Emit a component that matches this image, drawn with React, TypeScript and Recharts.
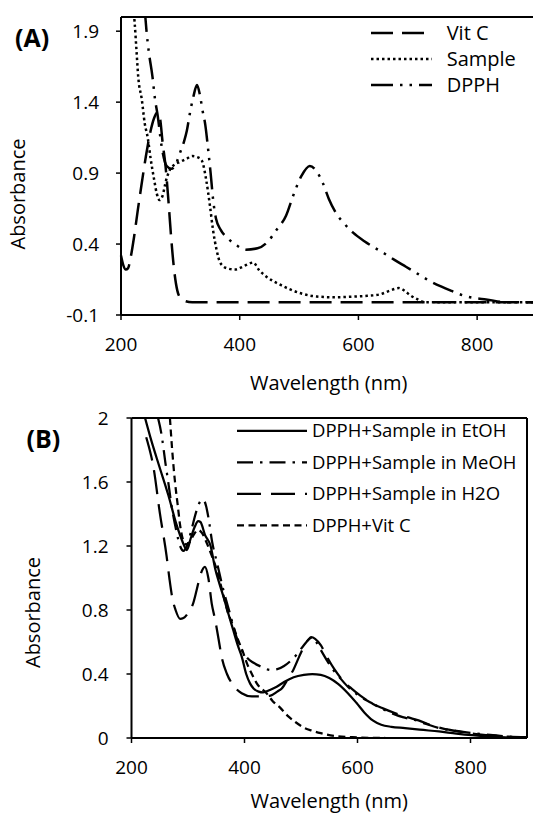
import { LineChart, Line, XAxis, YAxis, ReferenceLine, Legend } from "recharts";

// (A) spectra, wavelength (nm) / absorbance
const vitcA_nm = [200, 204, 208, 212, 216, 222, 228, 235, 242, 250, 256, 262, 266, 270, 275, 280, 285, 290, 295, 300, 307, 320, 400, 500, 600, 700, 800, 900];
const vitcA_abs = [0.32, 0.25, 0.22, 0.23, 0.3, 0.45, 0.63, 0.83, 1.02, 1.2, 1.29, 1.33, 1.28, 1.12, 0.95, 0.7, 0.42, 0.2, 0.07, 0.02, 0.0, -0.01, -0.01, -0.01, -0.01, -0.01, -0.01, -0.01];

const sampleA_nm = [220, 223, 226, 229, 235, 240, 245, 250, 256, 260, 265, 270, 276, 282, 290, 300, 310, 320, 330, 336, 344, 350, 355, 361, 367, 378, 392, 405, 415, 423, 432, 445, 465, 485, 505, 530, 560, 593, 615, 636, 652, 668, 678, 687, 700, 712, 730, 800, 900];
const sampleA_abs = [2.1, 1.96, 1.77, 1.58, 1.42, 1.25, 1.15, 1.0, 0.85, 0.76, 0.71, 0.74, 0.85, 0.92, 0.96, 0.98, 1.0, 1.02, 1.01, 0.99, 0.84, 0.665, 0.5, 0.36, 0.27, 0.23, 0.22, 0.24, 0.26, 0.27, 0.22, 0.17, 0.12, 0.08, 0.05, 0.03, 0.025, 0.03, 0.035, 0.045, 0.07, 0.09, 0.07, 0.04, 0.01, -0.01, -0.01, -0.01, -0.01];

const dpphA_nm = [240, 243, 247, 253, 257, 262, 268, 277, 285, 292, 300, 306, 311, 316, 322, 328, 333, 337, 342, 347, 351, 355, 360, 368, 380, 395, 410, 430, 448, 462, 478, 490, 504, 518, 530, 540, 550, 562, 575, 591, 610, 625, 645, 660, 680, 700, 720, 740, 757, 775, 795, 815, 850, 900];
const dpphA_abs = [2.05, 1.9, 1.75, 1.58, 1.43, 1.3, 1.1, 0.95, 0.93, 0.96, 1.05, 1.12, 1.2, 1.32, 1.44, 1.52, 1.45, 1.35, 1.24, 1.06, 0.9, 0.72, 0.58, 0.5, 0.44, 0.39, 0.36, 0.37, 0.42, 0.5, 0.6, 0.74, 0.88, 0.95, 0.91, 0.83, 0.72, 0.62, 0.55, 0.48, 0.42, 0.38, 0.33, 0.29, 0.24, 0.19, 0.14, 0.1, 0.07, 0.04, 0.02, 0.01, -0.01, -0.01];

// (B) spectra
const etohB_nm = [224, 235, 249, 265, 280, 290, 298, 305, 312, 318, 322, 330, 340, 348, 356, 363, 372, 380, 388, 395, 403, 410, 416, 425, 433, 445, 457, 470, 487, 505, 520, 535, 550, 565, 583, 598, 612, 627, 642, 660, 684, 710, 744, 775, 803, 840, 870, 900];
const etohB_abs = [2.0, 1.86, 1.7, 1.52, 1.33, 1.23, 1.175, 1.25, 1.32, 1.355, 1.35, 1.27, 1.2, 1.06, 0.96, 0.88, 0.77, 0.675, 0.58, 0.51, 0.4, 0.34, 0.31, 0.29, 0.285, 0.3, 0.32, 0.35, 0.38, 0.395, 0.4, 0.395, 0.375, 0.34, 0.28, 0.22, 0.16, 0.11, 0.083, 0.07, 0.062, 0.052, 0.041, 0.028, 0.018, 0.008, 0.003, 0.0];

const meohB_nm = [247, 253, 260, 265, 271, 279, 286, 292, 298, 306, 315, 322, 327, 332, 336, 343, 351, 363, 374, 385, 395, 405, 416, 430, 446, 458, 470, 481, 492, 505, 515, 520, 527, 535, 545, 553, 568, 583, 600, 624, 642, 660, 680, 701, 720, 744, 775, 803, 835, 863, 900];
const meohB_abs = [2.0, 1.9, 1.72, 1.6, 1.45, 1.3, 1.2, 1.17, 1.2, 1.3, 1.42, 1.48, 1.49, 1.45, 1.38, 1.22, 1.1, 0.92, 0.78, 0.64, 0.55, 0.5, 0.47, 0.445, 0.425, 0.43, 0.45, 0.48, 0.52, 0.58, 0.62, 0.63, 0.6, 0.55, 0.49, 0.445, 0.38, 0.32, 0.27, 0.22, 0.185, 0.156, 0.13, 0.113, 0.09, 0.062, 0.045, 0.03, 0.02, 0.01, 0.005];

const h2oB_nm = [226, 230, 239, 250, 262, 267, 272, 278, 286, 292, 300, 309, 315, 322, 330, 336, 342, 348, 354, 360, 369, 380, 395, 413, 430, 446, 458, 466, 477, 487, 497, 505, 512, 518, 525, 535, 547, 559, 574, 589, 605, 624, 645, 666, 688, 708, 730, 750, 780, 810, 850, 900];
const h2oB_abs = [1.88, 1.83, 1.69, 1.41, 1.14, 1.0, 0.88, 0.8, 0.745, 0.75, 0.78, 0.84, 0.92, 1.02, 1.07, 1.0, 0.84, 0.74, 0.62, 0.5, 0.4, 0.33, 0.28, 0.26, 0.26, 0.265, 0.29, 0.31, 0.37, 0.43, 0.51, 0.57, 0.61, 0.63, 0.62, 0.58, 0.5, 0.43, 0.36, 0.31, 0.265, 0.22, 0.185, 0.156, 0.13, 0.11, 0.08, 0.06, 0.04, 0.025, 0.012, 0.005];

const vitcB_nm = [268, 272, 277, 282, 286, 291, 296, 302, 310, 318, 325, 333, 342, 350, 360, 371, 380, 389, 397, 404, 413, 422, 439, 450, 463, 476, 490, 505, 520, 535, 562, 600, 650, 900];
const vitcB_abs = [2.0, 1.8, 1.6, 1.45, 1.33, 1.24, 1.21, 1.22, 1.27, 1.3, 1.28, 1.22, 1.14, 1.06, 0.93, 0.78, 0.7, 0.61, 0.54, 0.47, 0.4, 0.34, 0.28, 0.23, 0.19, 0.14, 0.1, 0.065, 0.045, 0.03, 0.012, 0.004, 0.0, 0.0];

const xTicks = [200, 400, 600, 800];
const yTicksA = [-0.1, 0.4, 0.9, 1.4, 1.9];
const yTicksB = [0, 0.4, 0.8, 1.2, 1.6, 2];

const toPoints = (nm: number[], abs: number[]) => nm.map((x, i) => ({ nm: x, abs: abs[i] }));

const FONT = "'Open Sans', sans-serif";

const seriesA = [
  { name: "Vit C", data: toPoints(vitcA_nm, vitcA_abs), dash: "22 9" },
  { name: "Sample", data: toPoints(sampleA_nm, sampleA_abs), dash: "2.5 3" },
  { name: "DPPH", data: toPoints(dpphA_nm, dpphA_abs), dash: "22 7 2.5 7 2.5 7" },
];

const seriesB = [
  { name: "DPPH+Sample in EtOH", data: toPoints(etohB_nm, etohB_abs), dash: undefined },
  { name: "DPPH+Sample in MeOH", data: toPoints(meohB_nm, meohB_abs), dash: "16 7 2.5 7" },
  { name: "DPPH+Sample in H2O", data: toPoints(h2oB_nm, h2oB_abs), dash: "24 10" },
  { name: "DPPH+Vit C", data: toPoints(vitcB_nm, vitcB_abs), dash: "7 4.5" },
];

type Series = { name: string; dash?: string };

// legend drawn by hand so the long line samples match the figure
const makeLegend =
  (items: Series[], rowH: number, lineLen: number, textX: number, fontSize: number, sw: number) => () =>
    (
      <svg width={textX + 220} height={items.length * rowH}>
        {items.map((s, i) => {
          const y = rowH * i + rowH / 2;
          return (
            <g key={s.name}>
              <line x1={0} x2={lineLen} y1={y} y2={y} stroke="#000" strokeWidth={sw} strokeDasharray={s.dash} />
              <text x={textX} y={y} dy="0.35em" fontSize={fontSize} fontFamily={FONT} fill="#000">
                {s.name}
              </text>
            </g>
          );
        })}
      </svg>
    );

const yTitle = (x: number, y: number) => () =>
  (
    <text
      x={x}
      y={y}
      transform={`rotate(-90 ${x} ${y})`}
      textAnchor="middle"
      dy="0.35em"
      fontSize={20}
      fontFamily={FONT}
      fill="#000"
    >
      Absorbance
    </text>
  );

const tickStyle = { fill: "#000", fontSize: 19, fontFamily: FONT };
const axisLine = { stroke: "#000", strokeWidth: 2 };
const tickLine = { stroke: "#000", strokeWidth: 1.5 };

export default function App() {
  return (
    <div
      style={{
        position: "absolute",
        left: 0,
        top: 0,
        width: 533,
        height: 815,
        overflow: "hidden",
        background: "#fff",
        fontFamily: FONT,
      }}
    >
      {/* panel A */}
      <div style={{ position: "absolute", left: 0, top: 0 }}>
        <LineChart width={560} height={400} margin={{ top: 17, right: 23.5, bottom: 0, left: 0 }}>
          <XAxis
            dataKey="nm"
            type="number"
            domain={[200, 900]}
            ticks={xTicks}
            height={85}
            tickSize={5}
            tickMargin={18}
            tick={tickStyle}
            axisLine={axisLine}
            tickLine={tickLine}
            allowDuplicatedCategory={false}
            label={{ value: "Wavelength (nm)", position: "insideBottom", offset: 10, fontSize: 20, fontFamily: FONT, fill: "#000" }}
          />
          <YAxis
            type="number"
            domain={[-0.1, 2]}
            ticks={yTicksA}
            allowDataOverflow
            width={121}
            tickSize={5}
            tickMargin={17}
            tick={tickStyle}
            axisLine={axisLine}
            tickLine={tickLine}
            label={{ content: yTitle(17.5, 194) }}
          />
          <ReferenceLine y={2} stroke="#000" strokeWidth={2} />
          {seriesA.map((s) => (
            <Line
              key={s.name}
              data={s.data}
              dataKey="abs"
              name={s.name}
              type="monotone"
              stroke="#000"
              strokeWidth={2.5}
              strokeDasharray={s.dash}
              dot={false}
              activeDot={false}
              isAnimationActive={false}
            />
          ))}
          <Legend
            layout="horizontal"
            align="center"
            verticalAlign="middle"
            wrapperStyle={{ left: 371, top: 20, width: 170 }}
            content={makeLegend(seriesA, 26, 61, 75.7, 20, 2.5)}
          />
        </LineChart>
      </div>

      {/* panel B */}
      <div style={{ position: "absolute", left: 0, top: 400 }}>
        <LineChart width={533} height={415} margin={{ top: 18, right: 6, bottom: 0, left: 0 }}>
          <XAxis
            dataKey="nm"
            type="number"
            domain={[200, 900]}
            ticks={xTicks}
            height={77}
            tickSize={5}
            tickMargin={18}
            tick={tickStyle}
            axisLine={axisLine}
            tickLine={tickLine}
            allowDuplicatedCategory={false}
            label={{ value: "Wavelength (nm)", position: "insideBottom", offset: 7, fontSize: 20, fontFamily: FONT, fill: "#000" }}
          />
          <YAxis
            type="number"
            domain={[0, 2]}
            ticks={yTicksB}
            allowDataOverflow
            width={131.5}
            tickSize={5}
            tickMargin={18}
            tick={tickStyle}
            axisLine={axisLine}
            tickLine={tickLine}
            label={{ content: yTitle(33, 212.5) }}
          />
          <ReferenceLine y={2} stroke="#000" strokeWidth={2} />
          <ReferenceLine x={900} stroke="#000" strokeWidth={2} />
          {seriesB.map((s) => (
            <Line
              key={s.name}
              data={s.data}
              dataKey="abs"
              name={s.name}
              type="monotone"
              stroke="#000"
              strokeWidth={2.25}
              strokeDasharray={s.dash}
              dot={false}
              activeDot={false}
              isAnimationActive={false}
            />
          ))}
          <Legend
            layout="horizontal"
            align="center"
            verticalAlign="middle"
            wrapperStyle={{ left: 236.7, top: 15.25, width: 290 }}
            content={makeLegend(seriesB, 31.5, 70, 75, 18.5, 2.25)}
          />
        </LineChart>
      </div>

      {/* panel letters */}
      <svg width={533} height={815} style={{ position: "absolute", left: 0, top: 0, pointerEvents: "none" }}>
        <text x={15} y={47} fontSize={25} fontWeight="bold" fontFamily={FONT} fill="#000">
          (A)
        </text>
        <text x={26.5} y={448} fontSize={25} fontWeight="bold" fontFamily={FONT} fill="#000">
          (B)
        </text>
      </svg>
    </div>
  );
}
